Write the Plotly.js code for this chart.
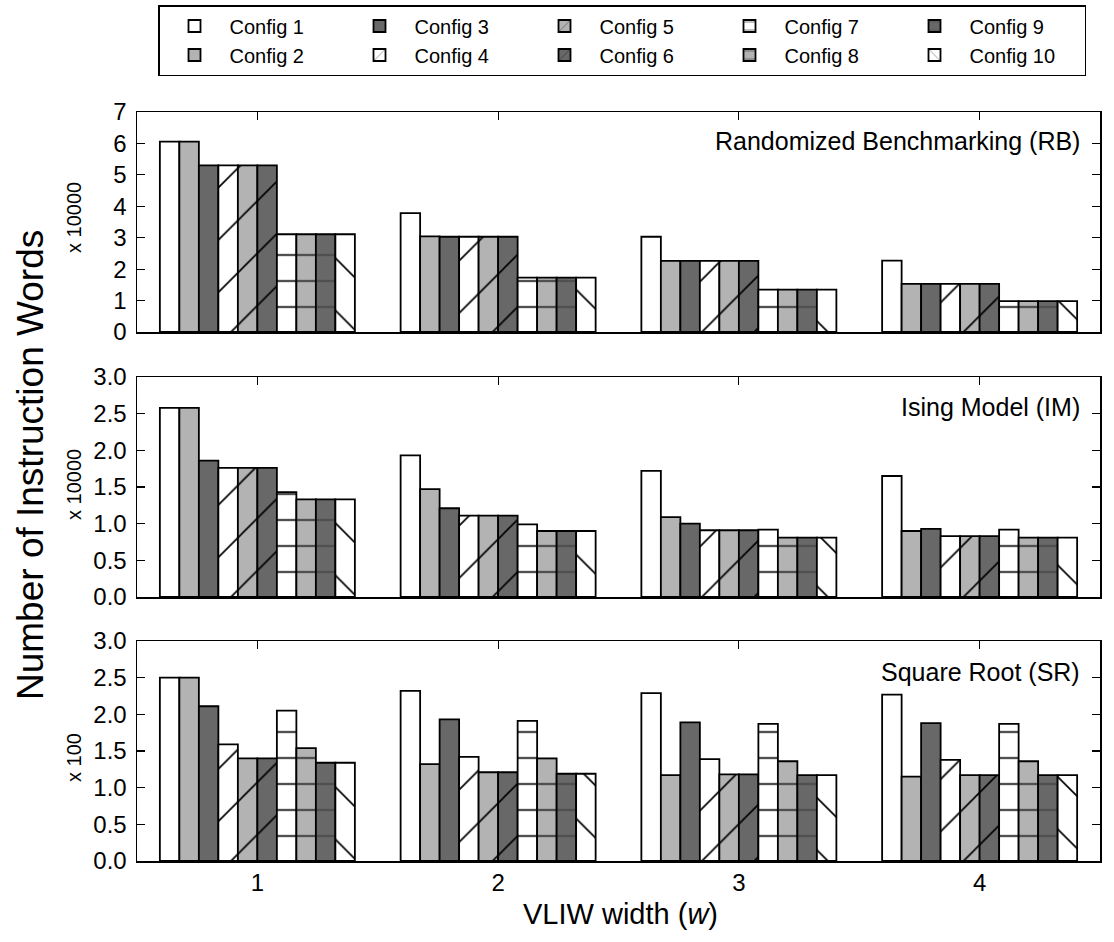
<!DOCTYPE html>
<html>
<head>
<meta charset="utf-8">
<script src="https://cdn.plot.ly/plotly-3.0.1.min.js"></script>
<style>html,body{margin:0;padding:0;background:#fff;}#chart{width:1114px;height:942px;}</style>
</head>
<body>
<div id="chart"></div>
<script>
// ---- data ----
const widths = [1, 2, 3, 4];
const tickText = ['1', '2', '3', '4'];
const configs = ['Config 1','Config 2','Config 3','Config 4','Config 5','Config 6','Config 7','Config 8','Config 9','Config 10'];
// Randomized Benchmarking (x 10000), one row per config, columns = VLIW width 1..4
const rb = [
  [6.06, 3.78, 3.03, 2.27],
  [6.06, 3.04, 2.26, 1.53],
  [5.30, 3.03, 2.26, 1.53],
  [5.30, 3.03, 2.26, 1.53],
  [5.30, 3.03, 2.26, 1.53],
  [5.30, 3.03, 2.26, 1.53],
  [3.11, 1.73, 1.35, 0.98],
  [3.11, 1.73, 1.35, 0.98],
  [3.11, 1.73, 1.35, 0.98],
  [3.11, 1.73, 1.35, 0.98]
];
// Ising Model (x 10000)
const im = [
  [2.58, 1.93, 1.72, 1.65],
  [2.58, 1.47, 1.09, 0.90],
  [1.86, 1.21, 1.00, 0.93],
  [1.76, 1.11, 0.91, 0.83],
  [1.76, 1.11, 0.91, 0.83],
  [1.76, 1.11, 0.91, 0.83],
  [1.43, 0.99, 0.92, 0.92],
  [1.33, 0.90, 0.81, 0.81],
  [1.33, 0.90, 0.81, 0.81],
  [1.33, 0.90, 0.81, 0.81]
];
// Square Root (x 100)
const sr = [
  [2.50, 2.32, 2.29, 2.27],
  [2.50, 1.32, 1.17, 1.15],
  [2.11, 1.93, 1.89, 1.88],
  [1.59, 1.42, 1.39, 1.38],
  [1.40, 1.21, 1.18, 1.17],
  [1.40, 1.21, 1.18, 1.17],
  [2.05, 1.91, 1.87, 1.87],
  [1.54, 1.40, 1.36, 1.36],
  [1.34, 1.19, 1.17, 1.17],
  [1.34, 1.19, 1.17, 1.17]
];
const panelTitles = ['Randomized Benchmarking (RB)', 'Ising Model (IM)', 'Square Root (SR)'];
const scaleLabels = ['x 10000', 'x 10000', 'x 100'];
const legendOrder = [1, 6, 2, 7, 3, 8, 4, 9, 5, 10];

// ---- styles ----
const WHITE = '#ffffff', LIGHT = '#b3b3b3', DARK = '#686868';
const fills = [WHITE, LIGHT, DARK, WHITE, LIGHT, DARK, WHITE, LIGHT, DARK, WHITE];
const hatches = ['', '', '', '/', '/', '/', '-', '-', '-', '\\'];
function patternFor(i) {
  const h = hatches[i];
  if (h === '') return {shape: ''};
  if (h === '-') return {shape: '-', size: 26, solidity: 0.09, fgcolor: '#505050', fgopacity: 1, bgcolor: fills[i], fillmode: 'overlay'};
  return {shape: h, size: 37, solidity: 0.045, fgcolor: '#000000', fgopacity: 1, bgcolor: fills[i], fillmode: 'overlay'};
}

const panels = [rb, im, sr];
const axisSuffix = ['', '2', '3'];
const traces = [];
panels.forEach((vals, p) => {
  vals.forEach((row, i) => {
    traces.push({
      type: 'bar',
      x: widths,
      y: row,
      name: configs[i],
      xaxis: 'x' + axisSuffix[p],
      yaxis: 'y' + axisSuffix[p],
      showlegend: p === 0,
      legendrank: legendOrder[i],
      marker: {color: fills[i], line: {color: '#000', width: 1.8}, pattern: patternFor(i)},
      hoverinfo: 'skip'
    });
  });
});

const H = 942, W = 1114, L = 137, R = 14;
const pw = W - L - R;
function fy(px) { return 1 - px / H; }
function fx(px) { return (px - L) / pw; }
const doms = [[fy(332), fy(112)], [fy(597), fy(377)], [fy(861), fy(641)]];
const yRanges = [[0, 7], [0, 3], [0, 3]];
const yTicks = [[0,1,2,3,4,5,6,7], [0,0.5,1,1.5,2,2.5,3], [0,0.5,1,1.5,2,2.5,3]];

const font = 'Liberation Sans, Arial, sans-serif';
const layout = {
  width: W, height: H,
  margin: {l: L, r: R, t: 0, b: 0},
  paper_bgcolor: '#fff', plot_bgcolor: '#fff',
  barmode: 'group', bargap: 0.19, bargroupgap: 0,
  font: {family: font, color: '#000'},
  showlegend: true,
  legend: {
    orientation: 'h', x: fx(158), xanchor: 'left', y: fy(5), yanchor: 'top',
    bordercolor: '#000', borderwidth: 1.5, bgcolor: '#fff',
    font: {family: font, size: 20, color: '#000'},
    itemwidth: 60, entrywidth: 110, entrywidthmode: 'pixels',
    traceorder: 'normal', itemclick: false, itemdoubleclick: false
  },
  annotations: [],
  shapes: []
};

for (let p = 0; p < 3; p++) {
  const s = axisSuffix[p];
  layout['xaxis' + s] = {
    domain: [0, 1], anchor: 'y' + s, range: [0.5, 4.5],
    tickmode: 'array', tickvals: widths, ticktext: tickText,
    showticklabels: p === 2, ticks: 'inside', ticklen: 8, tickwidth: 1.2, tickcolor: '#000',
    showline: true, linecolor: '#000', linewidth: 1.5, mirror: 'ticks',
    showgrid: false, zeroline: false, fixedrange: true,
    tickfont: {family: font, size: 24, color: '#000'}, ticklabelstandoff: 0
  };
  layout['yaxis' + s] = {
    domain: doms[p], anchor: 'x' + s, range: yRanges[p],
    tickmode: 'array', tickvals: yTicks[p],
    tickformat: p === 0 ? 'd' : '.1f',
    ticks: 'inside', ticklen: 8, tickwidth: 1.2, tickcolor: '#000',
    showline: true, linecolor: '#000', linewidth: 1.5, mirror: 'ticks',
    showgrid: false, zeroline: false, fixedrange: true,
    tickfont: {family: font, size: 24, color: '#000'}, ticklabelstandoff: 4
  };
  layout.annotations.push({
    xref: 'paper', yref: 'paper', x: fx(1082), y: fy([141, 407, 672][p]),
    xanchor: 'right', yanchor: 'middle', showarrow: false,
    text: panelTitles[p], font: {family: font, size: 25, color: '#000'}
  });
  layout.annotations.push({
    xref: 'paper', yref: 'paper', x: fx(74), y: fy([218, 485, 758][p]),
    xanchor: 'center', yanchor: 'middle', showarrow: false, textangle: -90,
    text: scaleLabels[p], font: {family: font, size: 20, color: '#000'}
  });
}
layout.annotations.push({
  xref: 'paper', yref: 'paper', x: fx(30), y: fy(465), xanchor: 'center', yanchor: 'middle',
  showarrow: false, textangle: -90, text: 'Number of Instruction Words',
  font: {family: font, size: 37, color: '#000'}
});
layout.annotations.push({
  xref: 'paper', yref: 'paper', x: fx(620), y: fy(914), xanchor: 'center', yanchor: 'middle',
  showarrow: false, text: 'VLIW width (<i>w</i>)',
  font: {family: font, size: 29, color: '#000'}
});

Plotly.newPlot('chart', traces, layout, {displayModeBar: false, staticPlot: true});
</script>
</body>
</html>
